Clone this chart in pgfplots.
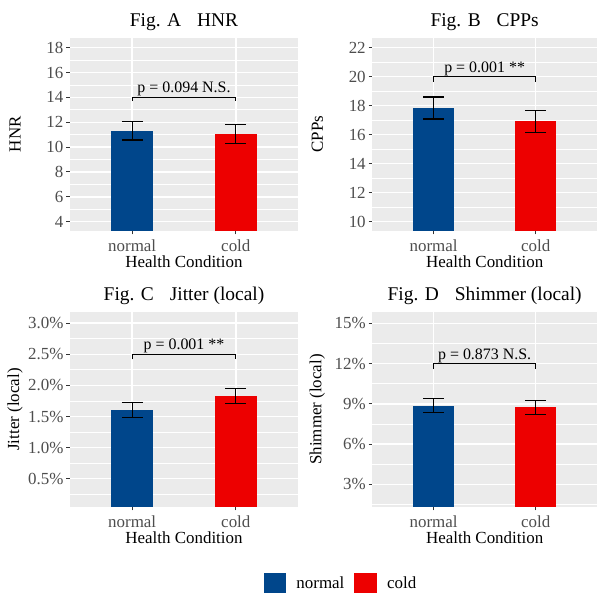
\documentclass[border=0pt]{standalone}
\usepackage{fontspec}
\setmainfont{Liberation Serif}
\usepackage{pgfplots}
\pgfplotsset{compat=1.18}
\definecolor{lnblue}{HTML}{00468B}
\definecolor{lnred}{HTML}{ED0000}
\definecolor{panelgray}{HTML}{EBEBEB}
\definecolor{ticklab}{HTML}{4D4D4D}
\definecolor{tickcol}{HTML}{333333}
\tikzset{ptext/.style={anchor=base, yshift=4.5bp, font=\fontsize{16}{16}\selectfont}}
\pgfplotsset{
  ggpanel/.style={
    scale only axis,
    anchor=south west,
    xmin=0.4, xmax=2.6,
    xtick={1,2}, xticklabels={normal,cold},
    axis background/.style={fill=panelgray},
    axis line style={draw=none},
    tick align=outside, tick pos=left,
    major tick length=3.6bp, minor tick length=0pt,
    every tick/.style={tickcol, line width=1bp},
    xmajorgrids, ymajorgrids, yminorgrids,
    major grid style={white, line width=1.4bp},
    minor grid style={white, line width=0.7bp},
    /pgf/number format/assume math mode=true,
    tick label style={font=\fontsize{17}{17}\selectfont, text=ticklab},
    yticklabel style={anchor=east, inner sep=2.8bp},
    xticklabel style={anchor=base, inner sep=0pt, yshift=-17bp},
    xlabel={Health Condition},
    every axis x label/.style={at={(rel axis cs:0.5,0)}, anchor=base, yshift=-37bp, font=\fontsize{17}{17}\selectfont},
    every axis y label/.style={at={(rel axis cs:0,0.5)}, xshift=-55bp, rotate=90, anchor=center, font=\fontsize{17}{17}\selectfont},
    every axis title/.style={at={(rel axis cs:0.5,1)}, anchor=base, yshift=11.5bp, font=\fontsize{19.5}{19.5}\selectfont},
  },
  ggbar/.style={ybar, bar width=0.4, bar shift=0pt, draw=none, fill=#1, forget plot,
    error bars/.cd, y dir=both, y explicit,
    error bar style={black, line width=1.3bp},
    error mark options={black, line width=1.3bp, mark size=10.4bp, rotate=90}},
  bracket/.style={black, line width=1.1bp, forget plot},
}
\begin{document}
\begin{tikzpicture}
\useasboundingbox (0,0) rectangle (598bp,594bp);
% Fig. A
\begin{axis}[ggpanel, at={(70bp,363.3bp)}, width=228bp, height=193bp,
  ymin=3.28, ymax=18.80, ytick={4,6,...,18}, minor ytick={5,7,...,17},
  ylabel={HNR}, title={Fig. A\hspace{0.82em}HNR}]
\addplot[ggbar=lnblue] coordinates {(1,11.30) +- (0,0.735)};
\addplot[ggbar=lnred] coordinates {(2,11.06) +- (0,0.78)};
\addplot[bracket] coordinates {(1,13.7) (1,14) (2,14) (2,13.7)};
\node[ptext] at (axis cs:1.5,14) {p = 0.094 N.S.};
\end{axis}
% Fig. B
\begin{axis}[ggpanel, at={(372.3bp,363.3bp)}, width=224.7bp, height=193bp,
  ymin=9.38, ymax=22.69, ytick={10,12,...,22}, minor ytick={11,13,...,21},
  ylabel={CPPs}, title={Fig. B\hspace{0.82em}CPPs}]
\addplot[ggbar=lnblue] coordinates {(1,17.84) +- (0,0.75)};
\addplot[ggbar=lnred] coordinates {(2,16.92) +- (0,0.745)};
\addplot[bracket] coordinates {(1,19.66) (1,20) (2,20) (2,19.66)};
\node[ptext] at (axis cs:1.5,20) {p = 0.001 **};
\end{axis}
% Fig. C
\begin{axis}[ggpanel, at={(70bp,87.3bp)}, width=228bp, height=194.5bp,
  ymin=0.051, ymax=3.176, ytick={0.5,1,...,3}, minor ytick={0.25,0.75,...,2.75},
  yticklabel={\pgfmathprintnumber[fixed,fixed zerofill,precision=1]{\tick}\%},
  ylabel={Jitter (local)}, title={Fig. C\hspace{0.82em}Jitter (local)},
  legend columns=2,
  legend image code/.code={\path[#1] (0bp,-10.3bp) rectangle (22.7bp,10.3bp);},
  legend style={at={(0.849,-0.392)}, anchor=west, draw=none, fill=none,
    font=\fontsize{17}{17}\selectfont, inner sep=0pt,
    /tikz/every odd column/.append style={column sep=8bp},
    /tikz/every even column/.append style={column sep=8bp}},
  legend cell align=left]
\addplot[ggbar=lnblue] coordinates {(1,1.60) +- (0,0.12)};
\addplot[ggbar=lnred] coordinates {(2,1.83) +- (0,0.125)};
\addplot[bracket] coordinates {(1,2.42) (1,2.5) (2,2.5) (2,2.42)};
\node[ptext] at (axis cs:1.5,2.5) {p = 0.001 **};
\addlegendimage{fill=lnblue, draw=none}
\addlegendentry{normal}
\addlegendimage{fill=lnred, draw=none}
\addlegendentry{cold}
\end{axis}
% Fig. D
\begin{axis}[ggpanel, at={(372.3bp,87.3bp)}, width=224.7bp, height=194.5bp,
  ymin=1.34, ymax=15.82, ytick={3,6,...,15}, minor ytick={1.5,4.5,...,13.5},
  yticklabel={\pgfmathprintnumber[fixed,precision=0]{\tick}\%},
  ylabel={Shimmer (local)}, title={Fig. D\hspace{0.82em}Shimmer (local)}]
\addplot[ggbar=lnblue] coordinates {(1,8.87) +- (0,0.51)};
\addplot[ggbar=lnred] coordinates {(2,8.74) +- (0,0.53)};
\addplot[bracket] coordinates {(1,11.58) (1,12) (2,12) (2,11.58)};
\node[ptext] at (axis cs:1.5,12) {p = 0.873 N.S.};
\end{axis}
\end{tikzpicture}
\end{document}
